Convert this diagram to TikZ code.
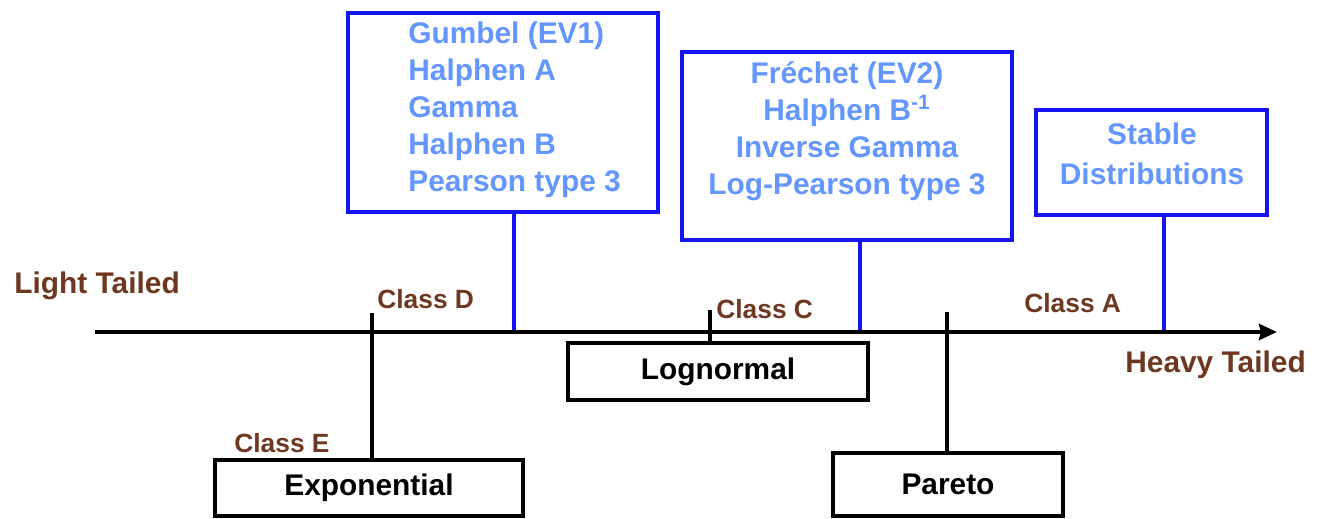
\documentclass[tikz,border=0pt]{standalone}
\usepackage{fontspec}
\usetikzlibrary{arrows.meta}
\setmainfont{Liberation Sans}
\definecolor{tailbrown}{RGB}{110,56,32}
\definecolor{listblue}{RGB}{100,150,255}
\definecolor{boxblue}{RGB}{20,20,245}

\def\axisY{332}

\begin{document}
\begin{tikzpicture}[x=0.02cm, y=-0.02cm, >={Stealth[length=0.36cm, width=0.32cm, inset=0.04cm]},
    bluebox/.style={draw=boxblue, line width=2pt},
    bluetext/.style={text=listblue, align=center, inner sep=0pt, font=\fontsize{17}{21}\selectfont\bfseries},
    blackbox/.style={draw=black, line width=2.4pt, fill=white, font=\fontsize{17}{21}\selectfont\bfseries},
    tailtext/.style={text=tailbrown, inner sep=0pt, anchor=base west, font=\fontsize{17}{21}\selectfont\bfseries},
    classtext/.style={text=tailbrown, inner sep=0pt, anchor=base west, font=\fontsize{15}{18}\selectfont\bfseries},
    tick/.style={draw=black, line width=2.2pt},
    pin/.style={draw=boxblue, line width=2.2pt}]
        \useasboundingbox (0,0) rectangle (1333,518);

        % the axis
        \coordinate (lo) at (95,\axisY);
        \coordinate (hi) at (1277,\axisY);
        \node[tailtext] (light) at (14,293) {Light Tailed};
        \node[tailtext] (heavy) at (1125,372) {Heavy Tailed};

        % upper (blue) boxes
        \node[bluebox, minimum width=6.2cm, minimum height=3.98cm] (gumbel) at (503,112.5) {};
        \node[bluetext, anchor=west, align=left] (gumbeltxt) at (408,110) {Gumbel (EV1)\\Halphen A\\Gamma\\Halphen B\\Pearson type 3};
        \node[bluebox, minimum width=6.6cm, minimum height=3.76cm] (frechet) at (847,146) {};
        \node[bluetext] (frechettxt) at (847,131) {Fréchet (EV2)\\Halphen B\textsuperscript{-1}\\Inverse Gamma\\Log-Pearson type 3};
        \node[bluebox, minimum width=4.62cm, minimum height=2.1cm] (stable) at (1151.5,162.5) {};
        \node[bluetext, font=\fontsize{17}{23}\selectfont\bfseries] (stabletxt) at (1152,154) {Stable\\Distributions};

        \coordinate (pinG) at (514,\axisY);
        \coordinate (pinF) at (860,\axisY);
        \coordinate (pinS) at (1164,\axisY);
        \draw[pin] (pinG |- gumbel.south) -- (pinG);
        \draw[pin] (pinF |- frechet.south) -- (pinF);
        \draw[pin] (pinS |- stable.south) -- (pinS);

        \draw[->, line width=2.8pt] (lo) -- (hi);

        % lower (black) boxes
        \node[blackbox, minimum width=6.16cm, minimum height=1.12cm] (expo) at (369,488) {Exponential};
        \node[blackbox, minimum width=6cm, minimum height=1.14cm] (logn) at (718,371.5) {Lognormal};
        \node[blackbox, minimum width=4.6cm, minimum height=1.26cm] (pareto) at (948,484.5) {Pareto};

        \coordinate (topD) at (372,313);
        \coordinate (topC) at (710,310);
        \coordinate (topP) at (947,312);
        \draw[tick] (topD) -- (topD |- expo.north);
        \draw[tick] (topC) -- (topC |- logn.north);
        \draw[tick] (topP) -- (topP |- pareto.north);

        % class labels
        \node[classtext] (classD) at (377,308) {Class D};
        \node[classtext] (classC) at (716,318) {Class C};
        \node[classtext] (classA) at (1024,312) {Class A};
        \node[classtext] (classE) at (234,452) {Class E};
      \end{tikzpicture}
\end{document}
